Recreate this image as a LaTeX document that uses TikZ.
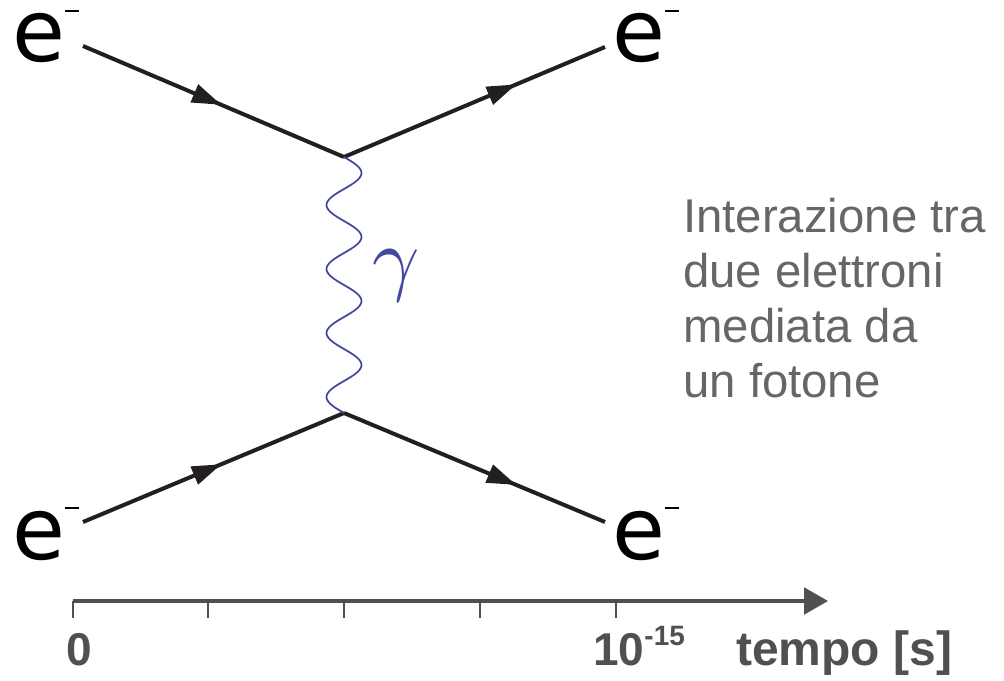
\documentclass[tikz,border=0pt]{standalone}
\usepackage{fontspec}
\setmainfont{Liberation Sans}
\newfontfamily\efont{DejaVu Sans}
\usetikzlibrary{arrows.meta,decorations.markings}
\definecolor{fermcol}{RGB}{35,31,32}
\definecolor{photcol}{RGB}{64,72,160}
\definecolor{axiscol}{RGB}{80,80,80}
\definecolor{desccol}{RGB}{102,102,102}
\begin{document}
\begin{tikzpicture}[x=0.75pt,y=-0.75pt,
  fermion/.style={line width=3pt, draw=fermcol, postaction={decorate},
    decoration={markings, mark=at position #1 with {\arrow[fermcol]{Triangle[length=22pt,width=14pt]}}}},
  photon/.style={line width=1.3pt, draw=photcol},
  axisline/.style={line width=2.6pt, draw=axiscol, -{Triangle[length=18pt,width=20pt]}},
  tick/.style={line width=1.6pt, draw=axiscol},
  elabel/.style={inner sep=0pt, anchor=base west, text height=0.6em, text depth=0pt, font=\efont\fontsize{64.5}{70}\selectfont},
  axlabel/.style={inner sep=0pt, anchor=base west, text=axiscol, font=\bfseries\fontsize{34.5}{40}\selectfont},
  desc/.style={inner sep=0pt, anchor=base west, text=desccol, font=\fontsize{35.5}{42}\selectfont}
]
\useasboundingbox (0,0) rectangle (1004,681);

% vertices and external points
\coordinate (v1) at (344,157);
\coordinate (v2) at (344,413);
\coordinate (a) at (83,46);
\coordinate (b) at (605,47);
\coordinate (c) at (83,522);
\coordinate (d) at (605,522);

% electron lines
\draw[fermion=0.53] (a) -- (v1);
\draw[fermion=0.66] (v1) -- (b);
\draw[fermion=0.53] (c) -- (v2);
\draw[fermion=0.66] (v2) -- (d);

% photon: 4 full sine periods from v1 (344,157) down to v2 (344,413)
\draw[photon] plot[domain=0:256, samples=161, smooth] ({344+17.5*sin(\x*5.625)},{157+\x});
\node[text=photcol, scale=6.2, inner sep=0pt] (gam) at (396,276) {$\gamma$};

% electron labels
\node[elabel] (eTL) at (12,62) {e\rule[0.58em]{0.16em}{0.03em}};
\node[elabel] (eTR) at (612,62) {e\rule[0.58em]{0.16em}{0.03em}};
\node[elabel] (eBL) at (12,559) {e\rule[0.58em]{0.16em}{0.03em}};
\node[elabel] (eBR) at (612,559) {e\rule[0.58em]{0.16em}{0.03em}};

% description
\node[desc] (d1) at (683,233) {Interazione tra};
\node[desc] (d2) at (683,287.7) {due elettroni};
\node[desc] (d3) at (683,342.4) {mediata da};
\node[desc] (d4) at (683,397) {un fotone};

% time axis
\coordinate (ax0) at (73,601);
\coordinate (ax1) at (828,601);
\draw[axisline] (ax0) -- (ax1);
\foreach \x [count=\i] in {73,208,344,480,616} {
  \coordinate (t\i) at (\x,601);
  \coordinate (tb\i) at (\x,618);
  \draw[tick] (t\i) -- (tb\i);
}
\node[axlabel] (zero) at (66,665) {0};
\node[axlabel] (tenm) at (593,665) {10\raisebox{0.43em}{\fontsize{21}{21}\selectfont -15}};
\node[axlabel, font=\bfseries\fontsize{36}{40}\selectfont] (tempo) at (736,665) {tempo [s]};
\end{tikzpicture}
\end{document}
